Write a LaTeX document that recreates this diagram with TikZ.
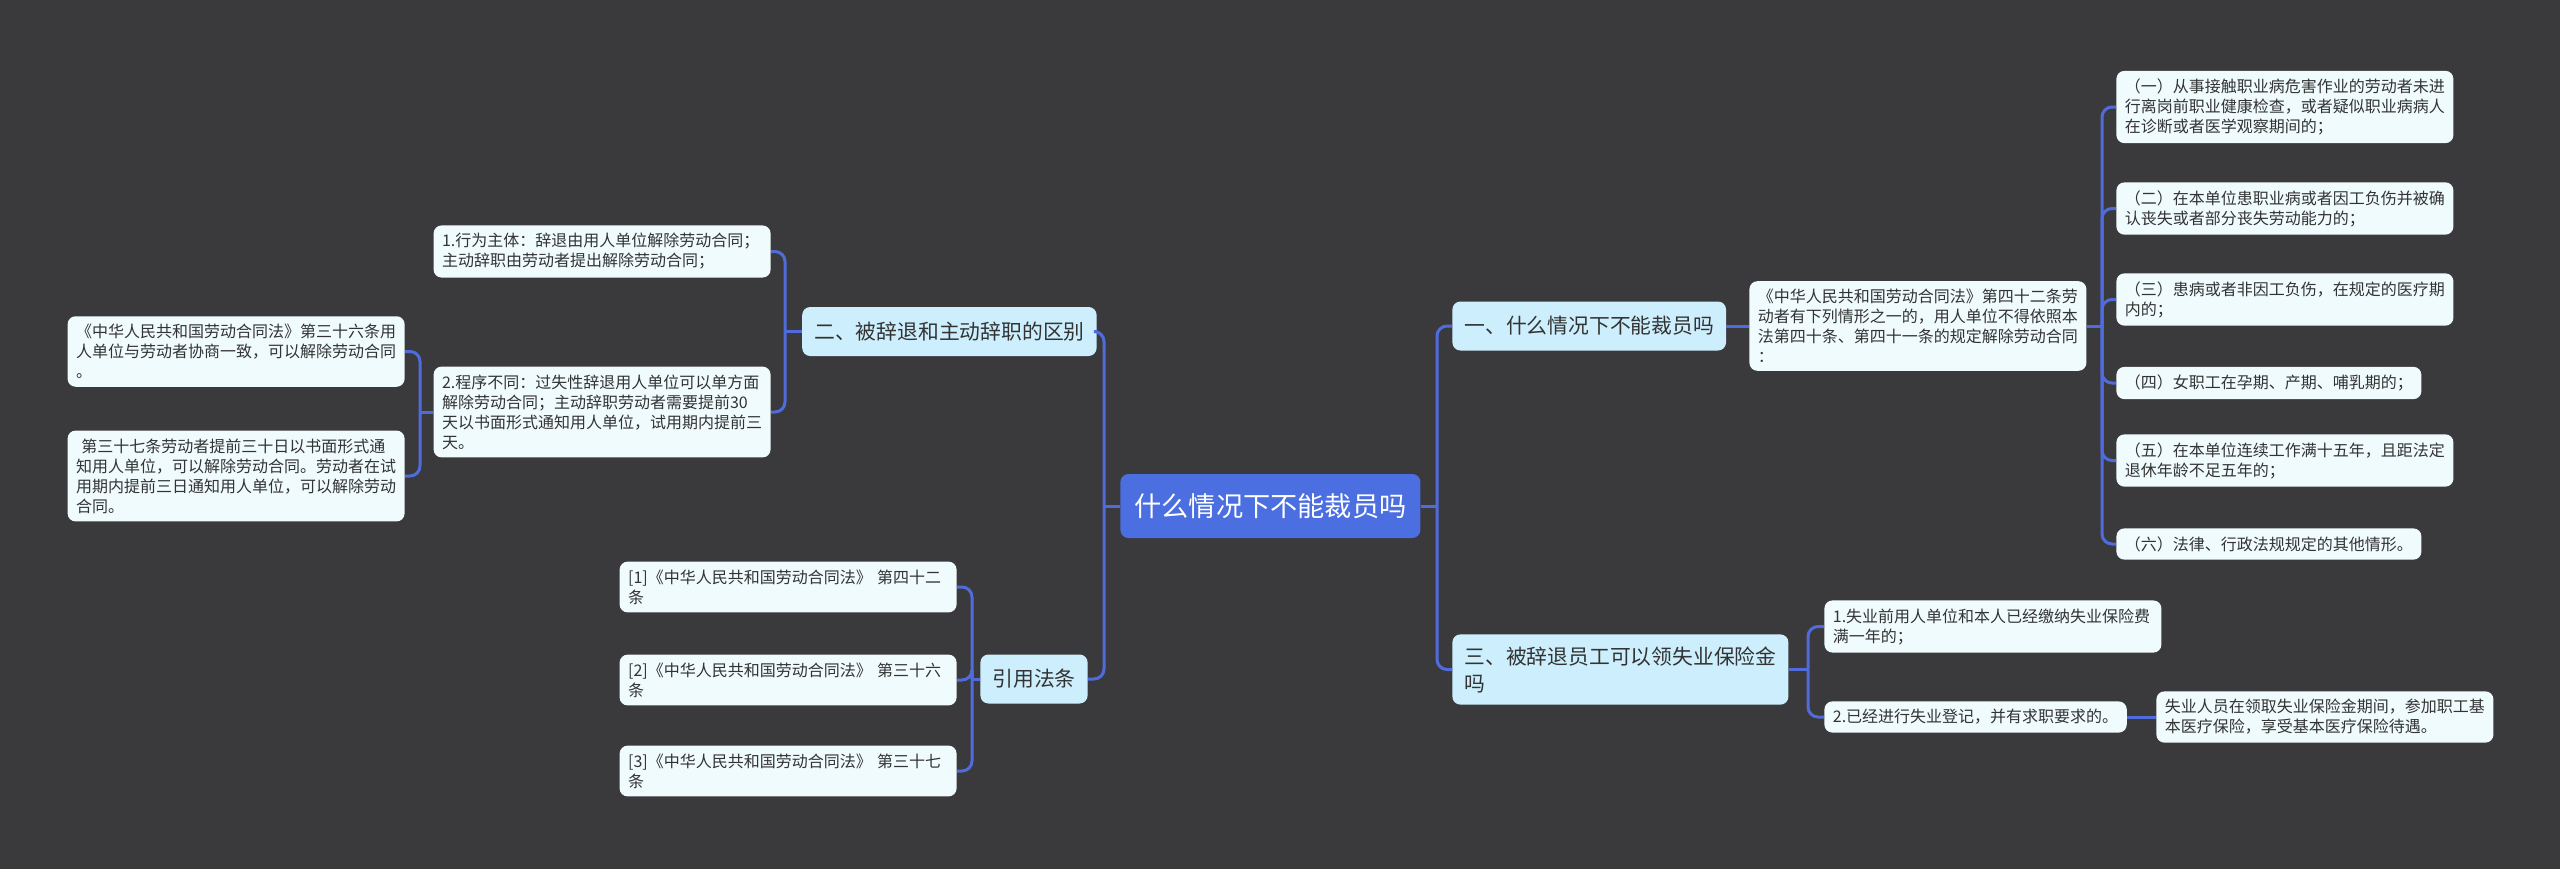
\documentclass[tikz,border=0pt]{standalone}
\usepackage{fontspec}
\newfontfamily\cjk{Noto Sans CJK SC}
\definecolor{bgdark}{HTML}{3A393B}
\definecolor{rootblue}{HTML}{4B6EE0}
\definecolor{topicblue}{HTML}{CDEFFD}
\definecolor{leafwhite}{HTML}{F0FBFE}
\definecolor{linkblue}{HTML}{506CDC}
\definecolor{inkdark}{HTML}{333333}
\tikzset{
  root/.style={fill=rootblue, text=white, rounded corners=4pt, inner xsep=7pt,
    minimum height=32pt, font=\cjk\fontsize{13.6}{16}\selectfont},
  topic/.style={fill=topicblue, text=inkdark, rounded corners=4pt, inner xsep=6pt,
    inner ysep=6pt, minimum height=24.5pt, align=left,
    font=\cjk\fontsize{10.4}{13.5}\selectfont},
  leaf/.style={fill=leafwhite, text=inkdark, rounded corners=4pt, inner xsep=4.25pt,
    inner ysep=4pt, align=left, font=\cjk\fontsize{8}{10}\selectfont},
  wide/.style={text width=160pt},
  link/.style={draw=linkblue, line width=1.5pt, rounded corners=5pt}
}
\begin{document}
\begin{tikzpicture}[x=0.5pt,y=-0.5pt]
  % Background
  \fill[bgdark] (0,0) rectangle (2560,869);
  \useasboundingbox (0,0) rectangle (2560,869);
  % Root
  \node[root, anchor=west] (root) at (1120,506) {什么情况下不能裁员吗};
  % Right-hand topics
  \node[topic, anchor=west] (topicA) at (1452,326) {一、什么情况下不能裁员吗};
  \node[topic, anchor=west] (topicC) at (1452,669.5) {三、被辞退员工可以领失业保险金\\吗};
  % Left-hand topics
  \node[topic, anchor=east] (topicB) at (1097,331.5) {二、被辞退和主动辞职的区别};
  \node[topic, anchor=east] (topicD) at (1088,679) {引用法条};
  % Topic one
  \node[leaf, wide, anchor=west] (lawA) at (1749,326) {《中华人民共和国劳动合同法》第四十二条劳\\动者有下列情形之一的，用人单位不得依照本\\法第四十条、第四十一条的规定解除劳动合同\\：};
  \node[leaf, wide, anchor=west] (caseA) at (2116,107) {（一）从事接触职业病危害作业的劳动者未进\\行离岗前职业健康检查，或者疑似职业病病人\\在诊断或者医学观察期间的；};
  \node[leaf, wide, anchor=west] (caseB) at (2116,208.5) {（二）在本单位患职业病或者因工负伤并被确\\认丧失或者部分丧失劳动能力的；};
  \node[leaf, wide, anchor=west] (caseC) at (2116,299.5) {（三）患病或者非因工负伤，在规定的医疗期\\内的；};
  \node[leaf, anchor=west] (caseD) at (2116,383) {（四）女职工在孕期、产期、哺乳期的；};
  \node[leaf, wide, anchor=west] (caseE) at (2116,460.5) {（五）在本单位连续工作满十五年，且距法定\\退休年龄不足五年的；};
  \node[leaf, anchor=west] (caseF) at (2116,544) {（六）法律、行政法规规定的其他情形。};
  % Topic three
  \node[leaf, wide, anchor=west] (paidA) at (1824,626.5) {1.失业前用人单位和本人已经缴纳失业保险费\\满一年的；};
  \node[leaf, anchor=west] (paidB) at (1824,717) {2.已经进行失业登记，并有求职要求的。};
  \node[leaf, wide, anchor=west] (paidC) at (2156,717) {失业人员在领取失业保险金期间，参加职工基\\本医疗保险，享受基本医疗保险待遇。};
  % Topic two
  \node[leaf, wide, anchor=east] (quitA) at (771,251.5) {1.行为主体：辞退由用人单位解除劳动合同；\\主动辞职由劳动者提出解除劳动合同；};
  \node[leaf, wide, anchor=east] (quitB) at (771,412) {2.程序不同：过失性辞退用人单位可以单方面\\解除劳动合同；主动辞职劳动者需要提前30\\天以书面形式通知用人单位，试用期内提前三\\天。};
  \node[leaf, wide, anchor=east] (artA) at (405,351.5) {《中华人民共和国劳动合同法》第三十六条用\\人单位与劳动者协商一致，可以解除劳动合同\\。};
  \node[leaf, wide, anchor=east] (artB) at (405,476) {\ 第三十七条劳动者提前三十日以书面形式通\\知用人单位，可以解除劳动合同。劳动者在试\\用期内提前三日通知用人单位，可以解除劳动\\合同。};
  % Cited articles
  \node[leaf, wide, anchor=east] (citeA) at (957,587) {[1]《中华人民共和国劳动合同法》 第四十二\\条};
  \node[leaf, wide, anchor=east] (citeB) at (957,680) {[2]《中华人民共和国劳动合同法》 第三十六\\条};
  \node[leaf, wide, anchor=east] (citeC) at (957,771) {[3]《中华人民共和国劳动合同法》 第三十七\\条};
  % Spines
  \coordinate (rootR) at (1437,506);
  \coordinate (rootL) at (1104,506);
  \coordinate (spineA) at (2102,326);
  \coordinate (spineC) at (1808,669.5);
  \coordinate (spineB) at (785,331.5);
  \coordinate (spineQ) at (420,412);
  \coordinate (spineD) at (972,679);
  % Root links
  \draw[link] (root.east) -- (rootR);
  \draw[link] (rootR) |- (topicA.west);
  \draw[link] (rootR) |- (topicC.west);
  \draw[link] (root.west) -- (rootL);
  \draw[link] (rootL) |- (topicB.east);
  \draw[link] (rootL) |- (topicD.east);
  % Topic one links
  \draw[link] (topicA.east) -- (lawA.west);
  \draw[link] (lawA.east) -- (spineA);
  \draw[link] (spineA) |- (caseA.west);
  \draw[link] (spineA) |- (caseB.west);
  \draw[link] (spineA) |- (caseC.west);
  \draw[link] (spineA) |- (caseD.west);
  \draw[link] (spineA) |- (caseE.west);
  \draw[link] (spineA) |- (caseF.west);
  % Topic three links
  \draw[link] (topicC.east) -- (spineC);
  \draw[link] (spineC) |- (paidA.west);
  \draw[link] (spineC) |- (paidB.west);
  \draw[link] (paidB.east) -- (paidC.west);
  % Topic two links
  \draw[link] (topicB.west) -- (spineB);
  \draw[link] (spineB) |- (quitA.east);
  \draw[link] (spineB) |- (quitB.east);
  \draw[link] (quitB.west) -- (spineQ);
  \draw[link] (spineQ) |- (artA.east);
  \draw[link] (spineQ) |- (artB.east);
  % Cited article links
  \draw[link] (topicD.west) -- (spineD);
  \draw[link] (spineD) |- (citeA.east);
  \draw[link] (spineD) |- (citeB.east);
  \draw[link] (spineD) |- (citeC.east);
\end{tikzpicture}
\end{document}
